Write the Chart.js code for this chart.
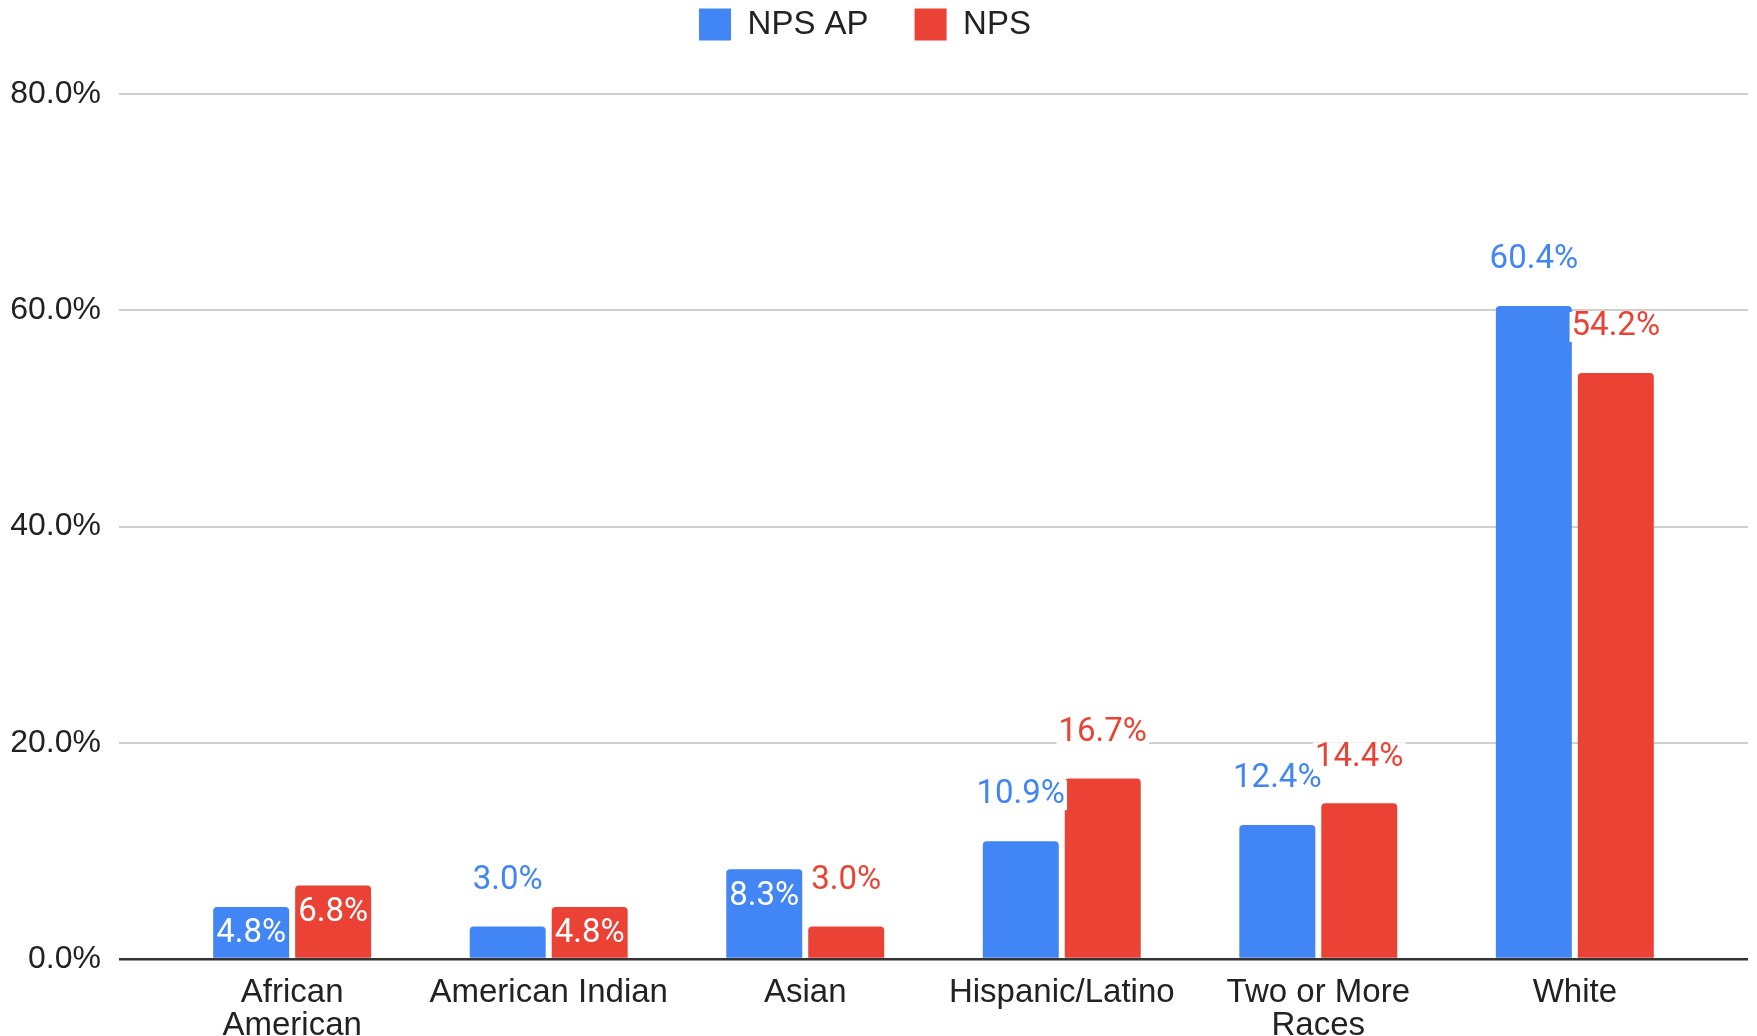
<!DOCTYPE html>
<html>
<head>
<meta charset="utf-8">
<script src="https://cdn.jsdelivr.net/npm/chart.js@4.4.1/dist/chart.umd.min.js"></script>
<style>
  html, body { margin: 0; padding: 0; background: #fff; }
  #wrap { width: 1757px; height: 1036px; }
</style>
</head>
<body>
<div id="wrap"><canvas id="myChart"></canvas></div>
<script>
const categories = [['African', 'American'], 'American Indian', 'Asian', 'Hispanic/Latino', ['Two or More', 'Races'], 'White'];
const npsAp = [4.8, 3.0, 8.3, 10.9, 12.4, 60.4];
const nps = [6.8, 4.8, 3.0, 16.7, 14.4, 54.2];
const yTicks = [0, 20, 40, 60, 80];

const BLUE = '#4285F4';
const RED = '#EA4335';
const FAMILY = "'Liberation Sans', Arial, sans-serif";
const LEGEND_PAD = 46;

// google sheets style value labels: inside small bars, above the rest
const barLabels = {
    id: 'barLabels',
    afterDatasetsDraw(chart) {
        const ctx = chart.ctx;
        ctx.save();
        ctx.font = "33px Roboto, sans-serif";
        ctx.textAlign = 'center';
        ctx.textBaseline = 'middle';
        chart.data.datasets.forEach((ds, i) => {
            const meta = chart.getDatasetMeta(i);
            meta.data.forEach((bar, j) => {
                const v = ds.values[j];
                const text = v.toFixed(1) + '%';
                const h = bar.base - bar.y;
                if (v < 10 && h > 45) {
                    ctx.fillStyle = '#fff';
                    ctx.fillText(text, bar.x, bar.y + 27);
                } else {
                    const w = ctx.measureText(text).width;
                    const cy = bar.y - 46;
                    ctx.fillStyle = '#fff';
                    ctx.fillRect(bar.x - w / 2 - 2, cy - 15, w + 4, 30);
                    ctx.fillStyle = ds.backgroundColor;
                    ctx.fillText(text, bar.x, cy);
                }
            });
        });
        ctx.restore();
    }
};

// legend padding is wide between items, so pull the row back up and fix the height
const legendGap = {
    id: 'legendGap',
    beforeInit(chart) {
        const legend = chart.legend;
        const fit = legend.fit;
        const draw = legend.draw;
        legend.fit = function () {
            fit.bind(legend)();
            this.height = 94;
        };
        legend.draw = function () {
            chart.ctx.save();
            chart.ctx.translate(-9, 8 - LEGEND_PAD);
            draw.bind(legend)();
            chart.ctx.restore();
        };
    }
};

const chart = new Chart(document.getElementById('myChart'), {
    type: 'bar',
    data: {
        datasets: [
            {
                label: 'NPS AP',
                values: npsAp,
                data: npsAp.map((v, i) => ({ x: i, y: v })),
                backgroundColor: BLUE,
            },
            {
                label: 'NPS',
                values: nps,
                data: nps.map((v, i) => ({ x: i, y: v })),
                backgroundColor: RED,
            }
        ]
    },
    plugins: [barLabels, legendGap],
    options: {
        responsive: true,
        maintainAspectRatio: false,
        animation: false,
        layout: { padding: { left: 0, right: 9, top: 0, bottom: 0 } },
        datasets: {
            bar: {
                barPercentage: 0.927,
                categoryPercentage: 0.639,
                borderRadius: 4,
                borderSkipped: 'start',
            }
        },
        plugins: {
            tooltip: { enabled: false },
            legend: {
                position: 'top',
                labels: {
                    boxWidth: 32,
                    boxHeight: 32,
                    padding: LEGEND_PAD,
                    color: '#222',
                    font: { family: FAMILY, size: 33 },
                }
            }
        },
        scales: {
            x: {
                type: 'linear',
                offset: false,
                min: -0.675,
                max: 5.675,
                bounds: 'data',
                grid: { display: false, offset: false },
                border: { display: false },
                afterBuildTicks: (scale) => {
                    scale.ticks = categories.map((c, i) => ({ value: i }));
                },
                afterFit: (scale) => { scale.height = 77; },
                ticks: {
                    autoSkip: false,
                    maxRotation: 0,
                    padding: 9,
                    color: '#222',
                    font: { family: FAMILY, size: 33, lineHeight: 1.0 },
                    callback: (value) => categories[value],
                }
            },
            y: {
                min: 0,
                max: 80,
                border: { display: false },
                afterBuildTicks: (scale) => {
                    scale.ticks = yTicks.map((v) => ({ value: v }));
                },
                afterFit: (scale) => { scale.width = 119; },
                grid: {
                    drawTicks: false,
                    color: (c) => c.tick.value === 0 ? '#333' : '#cfcfcf',
                    lineWidth: (c) => c.tick.value === 0 ? 2.5 : 2,
                },
                ticks: {
                    padding: 18,
                    color: '#222',
                    font: { family: FAMILY, size: 32 },
                    callback: (value) => value.toFixed(1) + '%',
                }
            }
        }
    }
});
</script>
</body>
</html>
